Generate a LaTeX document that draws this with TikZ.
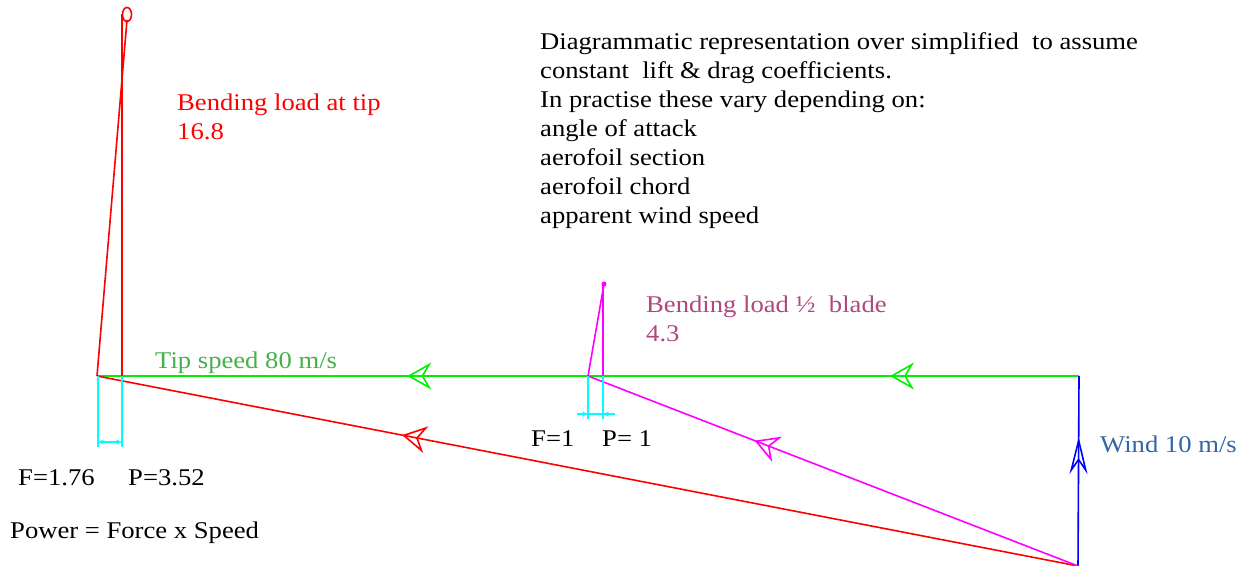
\documentclass[tikz,border=0pt]{standalone}
\usepackage{fontspec}
\setmainfont[FakeStretch=1.11]{Liberation Serif}
\usetikzlibrary{arrows.meta,decorations.markings}
\definecolor{lgreen}{RGB}{0,240,0}
\definecolor{lred}{RGB}{255,0,0}
\definecolor{lblue}{RGB}{0,0,255}
\definecolor{lmag}{RGB}{255,0,255}
\definecolor{lcyan}{RGB}{0,255,255}
\definecolor{tgreen}{RGB}{70,176,76}
\definecolor{tred}{RGB}{255,0,0}
\definecolor{tpurple}{RGB}{176,72,128}
\definecolor{tblue}{RGB}{52,101,164}
\tikzset{
  bigtip/.tip={Stealth[open,length=24pt,width=27pt,inset=8pt,line width=1.6pt]},
  windtip/.tip={Stealth[open,length=37pt,width=18pt,inset=13pt,line width=1.6pt]},
  dimtip/.tip={Stealth[length=6pt,width=5pt]},
  ln/.style={line width=1.6pt},
  midarrow/.style={postaction={decorate},decoration={markings,mark=at position #1 with {\arrow{bigtip}}}},
  txt/.style={anchor=base west,inner sep=0pt,font=\fontsize{24}{29}\selectfont},
}
\begin{document}
\begin{tikzpicture}[x=1pt,y=-1pt]
\fill[white] (0,0) rectangle (1246,565);
\useasboundingbox (0,0) rectangle (1246,565);
% key points
\coordinate (hub) at (97,376);
\coordinate (tipv) at (122,376);
\coordinate (tiptop) at (122,14);
\coordinate (tipend) at (127,20);
\coordinate (mid) at (588,376);
\coordinate (midv) at (603,376);
\coordinate (midtop) at (603,286);
\coordinate (midend) at (604,284);
\coordinate (corner) at (1079,376);
\coordinate (root) at (1078,566);
% green tip speed
\draw[ln,lgreen,postaction={decorate},decoration={markings,
  mark=at position 0.1925 with {\arrow{bigtip}},
  mark=at position 0.684 with {\arrow{bigtip}}}] (corner) -- (hub);
% blue wind
\draw[ln,lblue,postaction={decorate},decoration={markings,
  mark=at position 0.679 with {\arrow{windtip}}}] (root) -- (corner);
% red resultant and tip load
\draw[ln,lred,midarrow=0.689] (root) -- (hub);
\draw[ln,lred] (hub) -- (tipend);
\draw[ln,lred] (tipv) -- (tiptop);
\draw[ln,lred] (127,14.5) ellipse [x radius=4.5pt,y radius=7pt];
% magenta resultant and half-blade load
\draw[ln,lmag,midarrow=0.66] (root) -- (mid);
\draw[ln,lmag] (mid) -- (midend);
\draw[ln,lmag] (midv) -- (midtop);
\fill[lmag] (midend) circle [radius=2.5pt];
% cyan dimensions left
\coordinate (ca) at (98,447);
\coordinate (cb) at (122,447);
\draw[ln,lcyan] (98,376) -- (ca);
\draw[ln,lcyan] (tipv) -- (cb);
\coordinate (da) at (98,442);
\coordinate (db) at (122,442);
\draw[line width=1.2pt,lcyan,{dimtip}-{dimtip}] (da) -- (db);
% cyan dimensions mid
\coordinate (cc) at (588,419);
\coordinate (cd) at (603,419);
\draw[ln,lcyan] (mid) -- (cc);
\draw[ln,lcyan] (midv) -- (cd);
\coordinate (dl) at (577,414);
\coordinate (dr) at (615,414);
\coordinate (dm1) at (588,414);
\coordinate (dm2) at (603,414);
\draw[line width=1.2pt,lcyan] (dl) -- (dr);
\draw[line width=1.2pt,lcyan,-{dimtip}] (dl) -- (dm1);
\draw[line width=1.2pt,lcyan,-{dimtip}] (dr) -- (dm2);
% texts
\node[txt] (n1) at (540,49) {Diagrammatic representation over simplified~ to assume};
\node[txt] (n2) at (540,78) {constant~ lift \& drag coefficients.};
\node[txt] (n3) at (540,107) {In practise these vary depending on:};
\node[txt] (n4) at (540,136) {angle of attack};
\node[txt] (n5) at (540,165) {aerofoil section};
\node[txt] (n6) at (540,194) {aerofoil chord};
\node[txt] (n7) at (540,223) {apparent wind speed};
\node[txt,text=tred] (bt1) at (177,110) {Bending load at tip};
\node[txt,text=tred] (bt2) at (177,139) {16.8};
\node[txt,text=tpurple] (bh1) at (646,312) {Bending load ½~ blade};
\node[txt,text=tpurple] (bh2) at (646,341) {4.3};
\node[txt,text=tgreen] (ts) at (155,368) {Tip speed 80 m/s};
\node[txt,text=tblue] (wd) at (1100,452) {Wind 10 m/s};
\node[txt] (f1) at (531,446) {F=1};
\node[txt] (p1) at (602,446) {P= 1};
\node[txt] (f2) at (18,485) {F=1.76};
\node[txt] (p2) at (128,485) {P=3.52};
\node[txt] (pw) at (10,538) {Power = Force x Speed};
\end{tikzpicture}
\end{document}
